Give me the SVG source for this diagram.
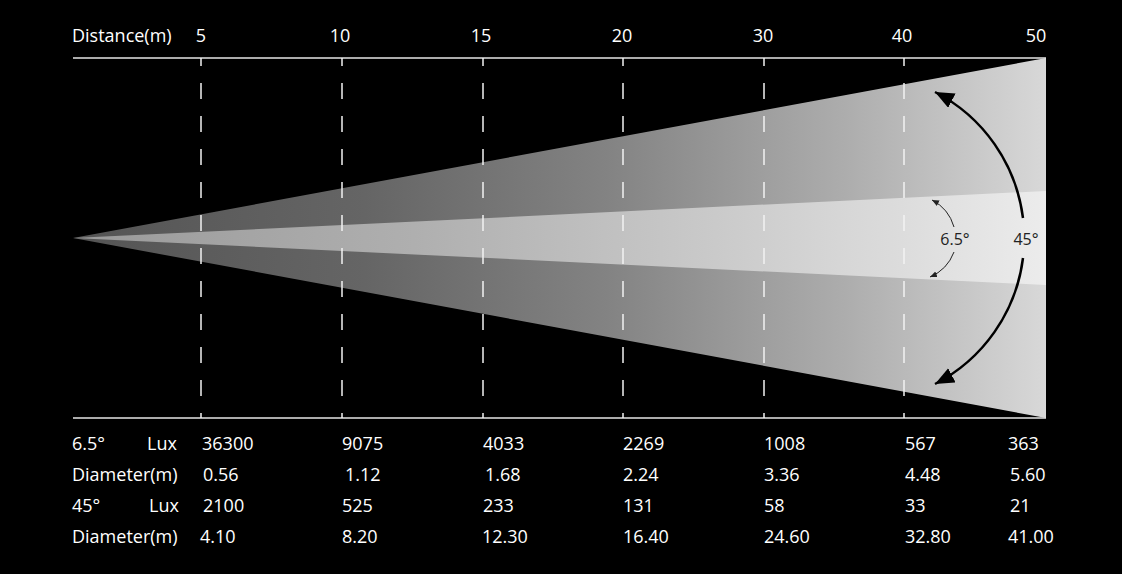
<svg xmlns="http://www.w3.org/2000/svg" width="1122" height="574" viewBox="0 0 1122 574">
<defs>
<linearGradient id="gOuter" gradientUnits="userSpaceOnUse" x1="73" y1="0" x2="1046" y2="0">
<stop offset="0" stop-color="#545454"/>
<stop offset="0.3" stop-color="#656565"/>
<stop offset="0.55" stop-color="#838383"/>
<stop offset="0.8" stop-color="#aeaeae"/>
<stop offset="1" stop-color="#d8d8d8"/>
</linearGradient>
<linearGradient id="gInner" gradientUnits="userSpaceOnUse" x1="73" y1="0" x2="1046" y2="0">
<stop offset="0" stop-color="#9a9a9a"/>
<stop offset="0.35" stop-color="#afafaf"/>
<stop offset="0.65" stop-color="#c9c9c9"/>
<stop offset="0.85" stop-color="#dcdcdc"/>
<stop offset="1" stop-color="#ececec"/>
</linearGradient>
<marker id="bigArrow" markerUnits="userSpaceOnUse" markerWidth="22" markerHeight="18" refX="19" refY="8" orient="auto" viewBox="0 0 22 18">
<path d="M0,0 L19,8 L0,16 z" fill="#000"/>
</marker>
<marker id="smallArrow" markerUnits="userSpaceOnUse" markerWidth="10" markerHeight="8" refX="7" refY="3" orient="auto" viewBox="0 0 10 8">
<path d="M0,0 L7,3 L0,6 z" fill="#222"/>
</marker>
</defs>
<style>
text{font-family:"Open Sans","Noto Sans","DejaVu Sans",sans-serif;font-size:18px;fill:#ffffff}
.mid{text-anchor:middle}
.dark{fill:#222222;font-size:16px}
.axis{stroke:#e6e6e6;stroke-width:1.5;fill:none}
.dash{stroke:#f2f2f2;stroke-width:1.5;stroke-dasharray:16 17;stroke-dashoffset:8;fill:none}
.bigarc{stroke:#000;stroke-width:2.5;fill:none;marker-end:url(#bigArrow)}
.smallarc{stroke:#222;stroke-width:1;fill:none;marker-end:url(#smallArrow)}
</style>
<rect width="1122" height="574" fill="#000"/>
<g id="beam">
<polygon id="outer-cone" points="73,238 1046,58 1046,418" fill="url(#gOuter)"/>
<polygon id="inner-cone" points="73,238 1046,191 1046,285" fill="url(#gInner)"/>
</g>
<g id="axes">
<line class="axis" x1="73" y1="58" x2="1046" y2="58"/>
<line class="axis" x1="73" y1="418" x2="1046" y2="418"/>
</g>
<g id="grid">
<line class="dash" x1="201" y1="58" x2="201" y2="418"/>
<line class="dash" x1="342" y1="58" x2="342" y2="418"/>
<line class="dash" x1="483" y1="58" x2="483" y2="418"/>
<line class="dash" x1="623" y1="58" x2="623" y2="418"/>
<line class="dash" x1="764" y1="58" x2="764" y2="418"/>
<line class="dash" x1="904" y1="58" x2="904" y2="418"/>
</g>
<g id="header">
<text x="72" y="42">Distance(m)</text>
<text class="mid" x="201" y="42">5</text>
<text class="mid" x="340" y="42">10</text>
<text class="mid" x="481" y="42">15</text>
<text class="mid" x="622" y="42">20</text>
<text class="mid" x="763" y="42">30</text>
<text class="mid" x="902" y="42">40</text>
<text class="mid" x="1036" y="42">50</text>
</g>
<g id="connectors">
<path class="bigarc" d="M1023,218 A165,165 0 0 0 935,92"/>
<path class="bigarc" d="M1023,258 A165,165 0 0 1 935,384"/>
<path class="smallarc" d="M954,227 A44,44 0 0 0 932,200"/>
<path class="smallarc" d="M954,252 A44,44 0 0 1 930,277"/>
</g>
<g id="angle-labels">
<text class="dark mid" x="955" y="245">6.5°</text>
<text class="dark mid" x="1026" y="245">45°</text>
</g>
<g id="table">
<text x="72" y="450">6.5°</text>
<text x="147" y="450">Lux</text>
<text x="202" y="450">36300</text>
<text x="342" y="450">9075</text>
<text x="483" y="450">4033</text>
<text x="623" y="450">2269</text>
<text x="764" y="450">1008</text>
<text x="905" y="450">567</text>
<text x="1008" y="450">363</text>

<text x="72" y="481">Diameter(m)</text>
<text x="203" y="481">0.56</text>
<text x="345" y="481">1.12</text>
<text x="485" y="481">1.68</text>
<text x="623" y="481">2.24</text>
<text x="764" y="481">3.36</text>
<text x="905" y="481">4.48</text>
<text x="1010" y="481">5.60</text>

<text x="72" y="512">45°</text>
<text x="149" y="512">Lux</text>
<text x="203" y="512">2100</text>
<text x="342" y="512">525</text>
<text x="483" y="512">233</text>
<text x="623" y="512">131</text>
<text x="764" y="512">58</text>
<text x="905" y="512">33</text>
<text x="1010" y="512">21</text>

<text x="72" y="543">Diameter(m)</text>
<text x="200" y="543">4.10</text>
<text x="342" y="543">8.20</text>
<text x="482" y="543">12.30</text>
<text x="623" y="543">16.40</text>
<text x="764" y="543">24.60</text>
<text x="905" y="543">32.80</text>
<text x="1008" y="543">41.00</text>
</g>
</svg>
